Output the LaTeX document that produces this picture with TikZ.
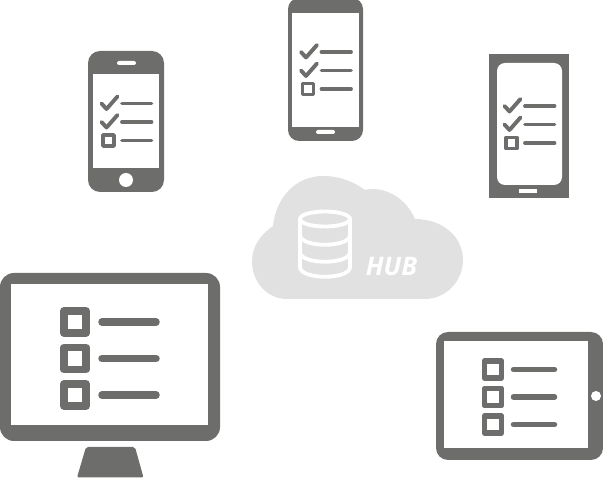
\documentclass[tikz,border=0pt]{standalone}
\usepackage{fontspec}
\setmainfont{Open Sans}
\definecolor{devgray}{HTML}{6D6D6B}
\definecolor{cloudgray}{HTML}{E1E1E1}
\tikzset{
	devbody/.style={fill=devgray,draw=none},
	devhole/.style={fill=white,draw=none},
	listrule/.style={draw=devgray,line cap=round},
	listbox/.style={draw=devgray,line join=round,fill=white},
	dbline/.style={draw=white,line width=3.8,line cap=round}
}
% two ticks and an empty box, x,y = left end of first row
\def\ticklist(#1,#2,#3){
	\begin{scope}[shift={(#1,#2)}]
		\draw[listrule,line width=3.9,line join=round] (1,0) -- (6,5.5) -- (17,-7);
		\draw[listrule,line width=3.9,line join=round] (1,18.5) -- (6,24) -- (17,11.5);
		\draw[listbox,line width=3.7] (2.5,31.5) rectangle (13.5,42.5);
		\foreach \rowy in {0,18.5,37}
			\draw[listrule,line width=3.8] (21.5,\rowy) -- (#3,\rowy);
	\end{scope}
}
\begin{document}
\begin{tikzpicture}[x=1pt,y=-1pt]
	\useasboundingbox (0,0) rectangle (603,478);
	%%%%% CLOUD %%%%%
	\fill[cloudgray] (287,299) .. controls (267,299) and (252,282) .. (252,261)
		.. controls (252,247) and (260,235) .. (273,226)
		.. controls (276,197) and (296,176) .. (323,176)
		.. controls (340,176) and (354,182) .. (365,190)
		.. controls (380,186) and (404,194) .. (415,219)
		.. controls (443,219) and (463,237) .. (463,260)
		.. controls (463,282) and (445,299) .. (425,299) -- cycle;
	\draw[dbline] (325,219) ellipse (25 and 7.5);
	\draw[dbline] (300,219) -- (300,267) .. controls (300,280) and (350,280) .. (350,267) -- (350,219);
	\draw[dbline] (300,235) .. controls (300,248) and (350,248) .. (350,235);
	\draw[dbline] (300,252) .. controls (300,265) and (350,265) .. (350,252);
	\node[text=white,inner sep=0pt,font=\fontsize{25.5}{26}\selectfont\bfseries\itshape] (hub) at (391.5,266.5) {HUB};
	%%%%% LEFT PHONE %%%%%
	\fill[devbody,rounded corners=12] (88,51) rectangle (164,192);
	\fill[devhole] (93,74) rectangle (159,168);
	\fill[devhole,rounded corners=2] (117,61) rectangle (136,65);
	\fill[devhole] (126,180) circle (7);
	\ticklist(100.5,103.5,51)
	%%%%% TOP PHONE %%%%%
	\fill[devbody,rounded corners=11] (288,-2) rectangle (363,141);
	\fill[devhole] (292,13) rectangle (359,127);
	\fill[devhole,rounded corners=2] (316,130) rectangle (335,134);
	\ticklist(300,52,51)
	%%%%% RIGHT PHONE %%%%%
	\fill[devbody] (489,54) rectangle (569,198);
	\fill[devhole,rounded corners=8] (497,63) rectangle (562,185);
	\fill[devhole] (519,189) rectangle (537,193);
	\ticklist(503.5,106,51)
	%%%%% MONITOR %%%%%
	\fill[devbody,rounded corners=14] (0,273) rectangle (220,441);
	\fill[devhole] (11,284) rectangle (208,425);
	\fill[devbody,rounded corners=2] (86,447) -- (135,447) -- (143.5,477.5) -- (77,477.5) -- cycle;
	\foreach \rowy in {322,358.5,395} {
		\draw[listbox,line width=7.5] (64,\rowy-11) rectangle (86,\rowy+11);
		\draw[listrule,line width=7.5] (102,\rowy) -- (156,\rowy);
	}
	%%%%% TABLET %%%%%
	\fill[devbody,rounded corners=12] (436,332) rectangle (603,460);
	\fill[devhole] (444,341) rectangle (588,448);
	\fill[devhole] (596,396) circle (5);
	\foreach \rowy in {369.5,397,424.5} {
		\draw[listbox,line width=5.6] (484.5,\rowy-8.5) rectangle (501.5,\rowy+8.5);
		\draw[listrule,line width=5.5] (513.5,\rowy) -- (554.5,\rowy);
	}
\end{tikzpicture}
\end{document}
